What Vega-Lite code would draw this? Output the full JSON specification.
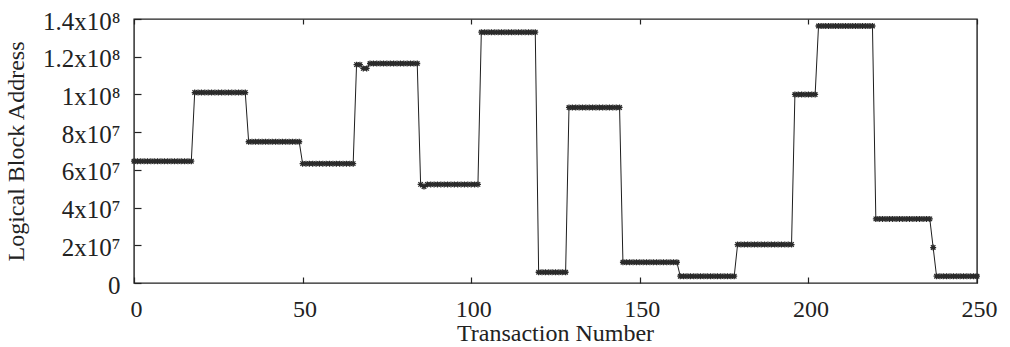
{
  "$schema": "https://vega.github.io/schema/vega-lite/v6.json",
  "autosize": {"type": "none"},
  "padding": {"left": 134, "top": 19, "right": 33, "bottom": 64},
  "width": 843,
  "height": 264,
  "background": "white",
  "config": {
    "view": {"stroke": "#222", "strokeWidth": 1.4},
    "font": "Liberation Serif",
    "axis": {
      "labelFont": "Liberation Serif",
      "titleFont": "Liberation Serif",
      "labelFontSize": 24,
      "titleFontSize": 24,
      "labelColor": "#222",
      "titleColor": "#222",
      "titleFontWeight": "normal",
      "domain": false,
      "grid": false,
      "tickColor": "#222",
      "tickWidth": 1.2
    }
  },
  "data": {
    "values": [
      {"t":0,"lba":64600000},{"t":1,"lba":64600000},{"t":2,"lba":64600000},{"t":3,"lba":64600000},{"t":4,"lba":64600000},{"t":5,"lba":64600000},{"t":6,"lba":64600000},{"t":7,"lba":64600000},{"t":8,"lba":64600000},{"t":9,"lba":64600000},
      {"t":10,"lba":64600000},{"t":11,"lba":64600000},{"t":12,"lba":64600000},{"t":13,"lba":64600000},{"t":14,"lba":64600000},{"t":15,"lba":64600000},{"t":16,"lba":64600000},{"t":17,"lba":64600000},
      {"t":18,"lba":101000000},{"t":19,"lba":101000000},{"t":20,"lba":101000000},{"t":21,"lba":101000000},{"t":22,"lba":101000000},{"t":23,"lba":101000000},{"t":24,"lba":101000000},{"t":25,"lba":101000000},{"t":26,"lba":101000000},{"t":27,"lba":101000000},{"t":28,"lba":101000000},{"t":29,"lba":101000000},{"t":30,"lba":101000000},{"t":31,"lba":101000000},{"t":32,"lba":101000000},{"t":33,"lba":101000000},
      {"t":34,"lba":74900000},{"t":35,"lba":74900000},{"t":36,"lba":74900000},{"t":37,"lba":74900000},{"t":38,"lba":74900000},{"t":39,"lba":74900000},{"t":40,"lba":74900000},{"t":41,"lba":74900000},{"t":42,"lba":74900000},{"t":43,"lba":74900000},{"t":44,"lba":74900000},{"t":45,"lba":74900000},{"t":46,"lba":74900000},{"t":47,"lba":74900000},{"t":48,"lba":74900000},{"t":49,"lba":74900000},
      {"t":50,"lba":63300000},{"t":51,"lba":63300000},{"t":52,"lba":63300000},{"t":53,"lba":63300000},{"t":54,"lba":63300000},{"t":55,"lba":63300000},{"t":56,"lba":63300000},{"t":57,"lba":63300000},{"t":58,"lba":63300000},{"t":59,"lba":63300000},{"t":60,"lba":63300000},{"t":61,"lba":63300000},{"t":62,"lba":63300000},{"t":63,"lba":63300000},{"t":64,"lba":63300000},{"t":65,"lba":63300000},
      {"t":66,"lba":115800000},{"t":67,"lba":115800000},{"t":68,"lba":113800000},{"t":69,"lba":113800000},
      {"t":70,"lba":116400000},{"t":71,"lba":116400000},{"t":72,"lba":116400000},{"t":73,"lba":116400000},{"t":74,"lba":116400000},{"t":75,"lba":116400000},{"t":76,"lba":116400000},{"t":77,"lba":116400000},{"t":78,"lba":116400000},{"t":79,"lba":116400000},{"t":80,"lba":116400000},{"t":81,"lba":116400000},{"t":82,"lba":116400000},{"t":83,"lba":116400000},{"t":84,"lba":116400000},
      {"t":85,"lba":52300000},{"t":86,"lba":51200000},
      {"t":87,"lba":52300000},{"t":88,"lba":52300000},{"t":89,"lba":52300000},{"t":90,"lba":52300000},{"t":91,"lba":52300000},{"t":92,"lba":52300000},{"t":93,"lba":52300000},{"t":94,"lba":52300000},{"t":95,"lba":52300000},{"t":96,"lba":52300000},{"t":97,"lba":52300000},{"t":98,"lba":52300000},{"t":99,"lba":52300000},{"t":100,"lba":52300000},{"t":101,"lba":52300000},{"t":102,"lba":52300000},
      {"t":103,"lba":133000000},{"t":104,"lba":133000000},{"t":105,"lba":133000000},{"t":106,"lba":133000000},{"t":107,"lba":133000000},{"t":108,"lba":133000000},{"t":109,"lba":133000000},{"t":110,"lba":133000000},{"t":111,"lba":133000000},{"t":112,"lba":133000000},{"t":113,"lba":133000000},{"t":114,"lba":133000000},{"t":115,"lba":133000000},{"t":116,"lba":133000000},{"t":117,"lba":133000000},{"t":118,"lba":133000000},{"t":119,"lba":133000000},
      {"t":120,"lba":5700000},{"t":121,"lba":5700000},{"t":122,"lba":5700000},{"t":123,"lba":5700000},{"t":124,"lba":5700000},{"t":125,"lba":5700000},{"t":126,"lba":5700000},{"t":127,"lba":5700000},{"t":128,"lba":5700000},
      {"t":129,"lba":93100000},{"t":130,"lba":93100000},{"t":131,"lba":93100000},{"t":132,"lba":93100000},{"t":133,"lba":93100000},{"t":134,"lba":93100000},{"t":135,"lba":93100000},{"t":136,"lba":93100000},{"t":137,"lba":93100000},{"t":138,"lba":93100000},{"t":139,"lba":93100000},{"t":140,"lba":93100000},{"t":141,"lba":93100000},{"t":142,"lba":93100000},{"t":143,"lba":93100000},{"t":144,"lba":93100000},
      {"t":145,"lba":11000000},{"t":146,"lba":11000000},{"t":147,"lba":11000000},{"t":148,"lba":11000000},{"t":149,"lba":11000000},{"t":150,"lba":11000000},{"t":151,"lba":11000000},{"t":152,"lba":11000000},{"t":153,"lba":11000000},{"t":154,"lba":11000000},{"t":155,"lba":11000000},{"t":156,"lba":11000000},{"t":157,"lba":11000000},{"t":158,"lba":11000000},{"t":159,"lba":11000000},{"t":160,"lba":11000000},{"t":161,"lba":11000000},
      {"t":162,"lba":3600000},{"t":163,"lba":3600000},{"t":164,"lba":3600000},{"t":165,"lba":3600000},{"t":166,"lba":3600000},{"t":167,"lba":3600000},{"t":168,"lba":3600000},{"t":169,"lba":3600000},{"t":170,"lba":3600000},{"t":171,"lba":3600000},{"t":172,"lba":3600000},{"t":173,"lba":3600000},{"t":174,"lba":3600000},{"t":175,"lba":3600000},{"t":176,"lba":3600000},{"t":177,"lba":3600000},{"t":178,"lba":3600000},
      {"t":179,"lba":20400000},{"t":180,"lba":20400000},{"t":181,"lba":20400000},{"t":182,"lba":20400000},{"t":183,"lba":20400000},{"t":184,"lba":20400000},{"t":185,"lba":20400000},{"t":186,"lba":20400000},{"t":187,"lba":20400000},{"t":188,"lba":20400000},{"t":189,"lba":20400000},{"t":190,"lba":20400000},{"t":191,"lba":20400000},{"t":192,"lba":20400000},{"t":193,"lba":20400000},{"t":194,"lba":20400000},{"t":195,"lba":20400000},
      {"t":196,"lba":100000000},{"t":197,"lba":100000000},{"t":198,"lba":100000000},{"t":199,"lba":100000000},{"t":200,"lba":100000000},{"t":201,"lba":100000000},{"t":202,"lba":100000000},
      {"t":203,"lba":136300000},{"t":204,"lba":136300000},{"t":205,"lba":136300000},{"t":206,"lba":136300000},{"t":207,"lba":136300000},{"t":208,"lba":136300000},{"t":209,"lba":136300000},{"t":210,"lba":136300000},{"t":211,"lba":136300000},{"t":212,"lba":136300000},{"t":213,"lba":136300000},{"t":214,"lba":136300000},{"t":215,"lba":136300000},{"t":216,"lba":136300000},{"t":217,"lba":136300000},{"t":218,"lba":136300000},{"t":219,"lba":136300000},
      {"t":220,"lba":34000000},{"t":221,"lba":34000000},{"t":222,"lba":34000000},{"t":223,"lba":34000000},{"t":224,"lba":34000000},{"t":225,"lba":34000000},{"t":226,"lba":34000000},{"t":227,"lba":34000000},{"t":228,"lba":34000000},{"t":229,"lba":34000000},{"t":230,"lba":34000000},{"t":231,"lba":34000000},{"t":232,"lba":34000000},{"t":233,"lba":34000000},{"t":234,"lba":34000000},{"t":235,"lba":34000000},{"t":236,"lba":34000000},
      {"t":237,"lba":18800000},
      {"t":238,"lba":3600000},{"t":239,"lba":3600000},{"t":240,"lba":3600000},{"t":241,"lba":3600000},{"t":242,"lba":3600000},{"t":243,"lba":3600000},{"t":244,"lba":3600000},{"t":245,"lba":3600000},{"t":246,"lba":3600000},{"t":247,"lba":3600000},{"t":248,"lba":3600000},{"t":249,"lba":3600000},{"t":250,"lba":3600000}
    ]
  },
  "layer": [
    {
      "mark": {"type": "line", "color": "#1e1e1e", "strokeWidth": 1, "clip": false},
      "encoding": {
        "x": {
          "field": "t", "type": "quantitative",
          "scale": {"domain": [0, 250], "nice": false, "zero": false},
          "axis": {
            "orient": "bottom",
            "values": [0, 50, 100, 150, 200, 250],
            "tickSize": -6,
            "labelPadding": 20,
            "labelBaseline": "top",
            "labelOffset": 2,
            "labelFlush": false,
            "title": "Transaction Number",
            "titleX": 421,
            "titleY": 57,
            "titleBaseline": "alphabetic"
          }
        },
        "y": {
          "field": "lba", "type": "quantitative",
          "scale": {"domain": [0, 140000000], "nice": false},
          "axis": {
            "orient": "left",
            "values": [0, 20000000, 40000000, 60000000, 80000000, 100000000, 120000000, 140000000],
            "tickSize": -7,
            "labelPadding": 21,
            "labelBaseline": "middle",
            "labelOffset": 2,
            "labelFontSize": 25,
            "labelFlush": false,
            "labelExpr": "datum.value == 0 ? '0' : (datum.value >= 100000000 ? (datum.value / 100000000) + 'x10⁸' : (datum.value / 10000000) + 'x10⁷')",
            "title": "Logical Block Address",
            "titleAngle": -90,
            "titleX": -111,
            "titleY": 132,
            "titleAlign": "center",
            "titleBaseline": "alphabetic"
          }
        }
      }
    },
    {
      "mark": {
        "type": "point",
        "shape": "M-1,0L1,0M0,-1L0,1M-0.75,-0.75L0.75,0.75M-0.75,0.75L0.75,-0.75",
        "filled": false,
        "color": "#2a2a2a",
        "strokeWidth": 1.3,
        "size": 36,
        "opacity": 1,
        "clip": false
      },
      "encoding": {
        "x": {
          "field": "t", "type": "quantitative",
          "axis": {
            "orient": "top",
            "values": [0, 50, 100, 150, 200, 250],
            "tickSize": -5,
            "labels": false,
            "title": null
          }
        },
        "y": {"field": "lba", "type": "quantitative", "axis": null}
      }
    }
  ],
  "resolve": {"axis": {"x": "independent", "y": "independent"}}
}
